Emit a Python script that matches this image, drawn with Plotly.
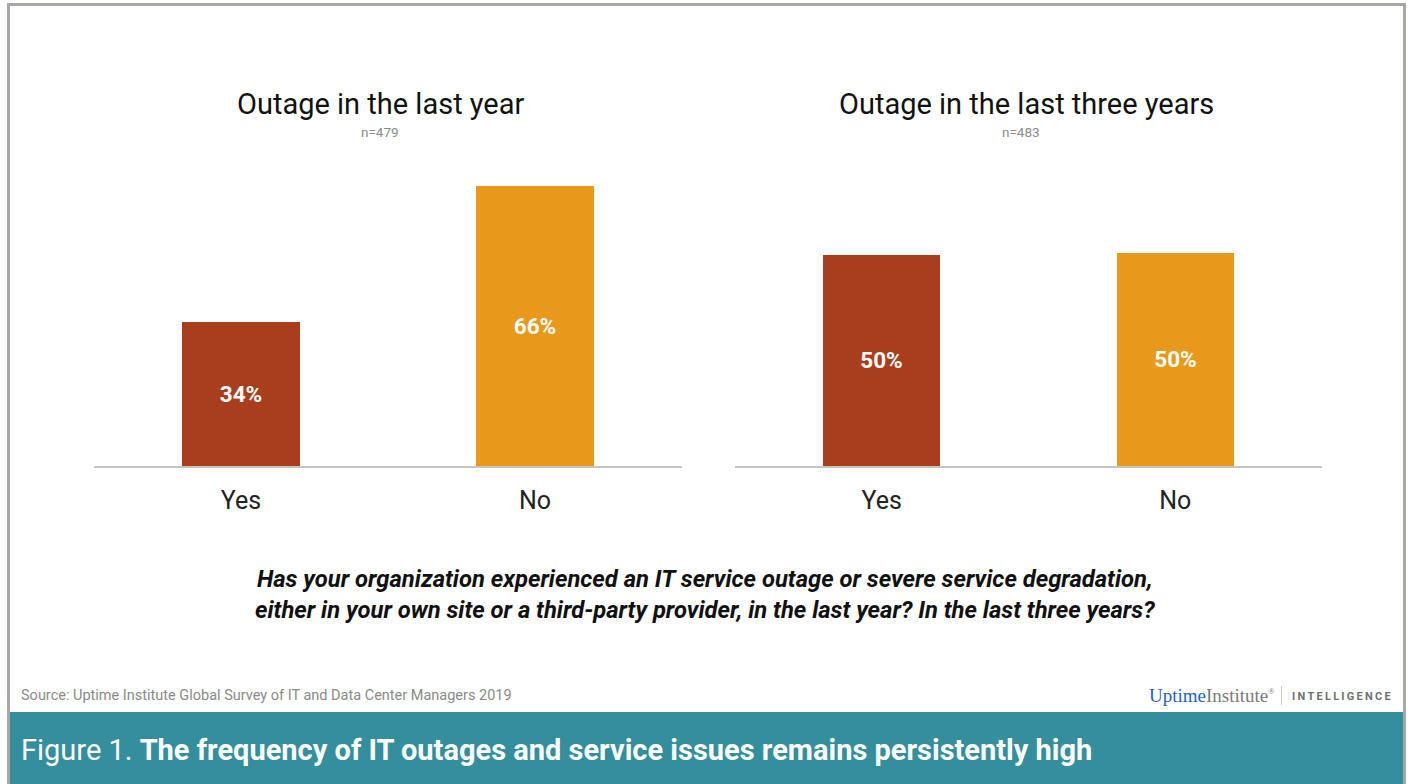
import plotly.graph_objects as go

W, H = 1411, 784

categories = ["Yes", "No"]
last_year = [34, 66]
last_three_years = [49.7, 50.3]
bar_colors = ["#a83e1e", "#e8991c"]

title_left = "Outage in the last year"
title_right = "Outage in the last three years"
n_left = "n=479"
n_right = "n=483"
question = ("Has your organization experienced an IT service outage or severe service degradation,<br>"
            "either in your own site or a third-party provider, in the last year? In the last three years?")
source = "Source: Uptime Institute Global Survey of IT and Data Center Managers 2019"
footer_plain = "Figure 1. "
footer_bold = "The frequency of IT outages and service issues remains persistently high"

FONT = "Roboto"


def px(x):
    return x / W


def py(y):
    return 1 - y / H


fig = go.Figure()
for vals, xa, ya in [(last_year, "x", "y"), (last_three_years, "x2", "y2")]:
    fig.add_trace(go.Bar(
        x=categories, y=vals, xaxis=xa, yaxis=ya,
        marker=dict(color=bar_colors, line=dict(width=0)),
        width=0.4,
        texttemplate="%{y:.0f}%",
        textposition="inside", insidetextanchor="middle",
        textfont=dict(family=FONT, size=22.5, color="white", weight="bold"),
        hoverinfo="skip", showlegend=False,
    ))

ydom = [py(466), py(466 - 70 * 4.245)]
axis_common = dict(showgrid=False, zeroline=False, showline=True, linecolor="#c4c4c4",
                   linewidth=2, ticks="outside", ticklen=11, tickcolor="rgba(0,0,0,0)",
                   tickfont=dict(family=FONT, size=25, color="#222222"), range=[-0.5, 1.5],
                   fixedrange=True)
yaxis_common = dict(range=[0, 70], visible=False, domain=ydom, fixedrange=True)

fig.update_layout(
    width=W, height=H,
    margin=dict(l=0, r=0, t=0, b=0),
    paper_bgcolor="white", plot_bgcolor="white",
    xaxis=dict(domain=[px(94), px(682)], anchor="y", **axis_common),
    xaxis2=dict(domain=[px(735), px(1322)], anchor="y2", **axis_common),
    yaxis=dict(anchor="x", **yaxis_common),
    yaxis2=dict(anchor="x2", **yaxis_common),
    bargap=0,
)

shapes = [
    # teal footer band
    dict(type="rect", xref="paper", yref="paper", x0=px(10), x1=px(1403), y0=0, y1=py(712),
         fillcolor="#348e9c", line=dict(width=0), layer="below"),
    # outer border
    dict(type="line", xref="paper", yref="paper", x0=px(8.5), x1=px(8.5), y0=0, y1=py(3),
         line=dict(color="#a9a7a3", width=3)),
    dict(type="line", xref="paper", yref="paper", x0=px(7), x1=px(1405.5), y0=py(4.5), y1=py(4.5),
         line=dict(color="#a9a7a3", width=3)),
    dict(type="line", xref="paper", yref="paper", x0=px(1404.5), x1=px(1404.5), y0=0, y1=py(3),
         line=dict(color="#a9a7a3", width=3)),
    # logo separator
    dict(type="line", xref="paper", yref="paper", x0=px(1281.5), x1=px(1281.5), y0=py(686), y1=py(705),
         line=dict(color="#cccccc", width=1)),
]
fig.update_layout(shapes=shapes)

annots = [
    dict(text=title_left, x=px(381), y=py(104), font=dict(family=FONT, size=29, color="#111111")),
    dict(text=n_left, x=px(380), y=py(132), font=dict(family=FONT, size=13.5, color="#8c8c8c")),
    dict(text=title_right, x=px(1026), y=py(104), font=dict(family=FONT, size=29, color="#111111")),
    dict(text=n_right, x=px(1021), y=py(132), font=dict(family=FONT, size=13.5, color="#8c8c8c")),
    dict(text="<b><i>" + question + "</i></b>", x=px(705), y=py(594),
         font=dict(family=FONT, size=23.8, color="#111111")),
    dict(text=source, x=px(19), y=py(695), xanchor="left",
         font=dict(family=FONT, size=14.5, color="#8a8a8a")),
    dict(text='<span style="color:#1f63c6">Uptime</span>Institute<sup><span style="font-size:8px">®</span></sup>',
         x=px(1276), y=py(695),
         xanchor="right", font=dict(family="Liberation Serif", size=19, color="#7a7a7a")),
    dict(text="\u2009".join("INTELLIGENCE"), x=px(1290), y=py(696), xanchor="left",
         font=dict(family=FONT, size=11, color="#707070", weight="bold")),
    dict(text=footer_plain + "<b>" + footer_bold + "</b>", x=px(19), y=py(750), xanchor="left",
         font=dict(family=FONT, size=29, color="white")),
]
for a in annots:
    a.setdefault("xanchor", "center")
    fig.add_annotation(xref="paper", yref="paper", yanchor="middle", showarrow=False, **a)

fig.write_html("out.html")
